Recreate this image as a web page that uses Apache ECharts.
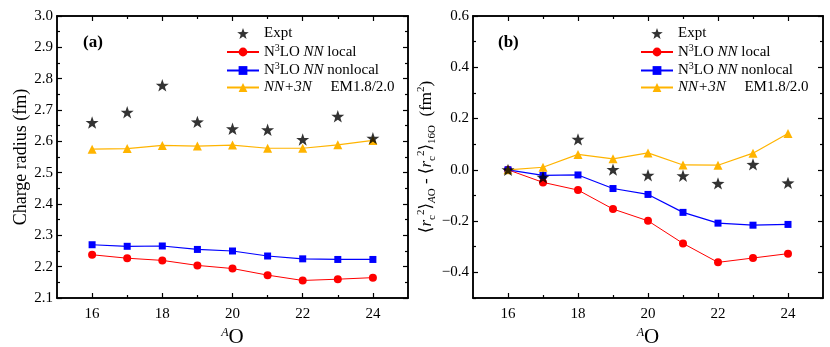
<!DOCTYPE html>
<html>
<head>
<meta charset="utf-8">
<script src="https://cdn.jsdelivr.net/npm/echarts@6/dist/echarts.min.js"></script>
<style>
  html, body { margin: 0; padding: 0; background: #fff; }
  #chart { width: 830px; height: 347px; }
</style>
</head>
<body>
<div id="chart"></div>
<script>
// mass numbers of the oxygen isotopes
const massNumbers = [16, 17, 18, 19, 20, 21, 22, 23, 24];

// (a) charge radius (fm)
const radiusExpt = [2.660, 2.693, 2.779, 2.662, 2.640, 2.637, 2.606, 2.680, 2.610];
const radiusLocal = [2.238, 2.227, 2.220, 2.204, 2.194, 2.173, 2.156, 2.160, 2.165];
const radiusNonlocal = [2.270, 2.265, 2.266, 2.255, 2.250, 2.234, 2.225, 2.223, 2.223];
const radiusEM = [2.575, 2.577, 2.587, 2.585, 2.588, 2.578, 2.578, 2.589, 2.603];

// (b) charge radius squared difference to 16O (fm^2)
const diffExpt = [0.000, -0.029, 0.119, 0.001, -0.021, -0.023, -0.053, 0.021, -0.051];
const diffLocal = [0.000, -0.049, -0.079, -0.153, -0.199, -0.287, -0.361, -0.344, -0.327];
const diffNonlocal = [0.000, -0.022, -0.020, -0.073, -0.096, -0.166, -0.208, -0.216, -0.213];
const diffEM = [0.000, 0.010, 0.060, 0.043, 0.066, 0.019, 0.018, 0.065, 0.142];

// ticks
const xMajorTicks = [16, 18, 20, 22, 24];
const xMinorTicks = [17, 19, 21, 23];
const radiusMajorTicks = [2.1, 2.2, 2.3, 2.4, 2.5, 2.6, 2.7, 2.8, 2.9, 3.0];
const radiusMinorTicks = [2.15, 2.25, 2.35, 2.45, 2.55, 2.65, 2.75, 2.85, 2.95];
const diffMajorTicks = [-0.4, -0.2, 0.0, 0.2, 0.4, 0.6];
const diffMinorTicks = [-0.5, -0.3, -0.1, 0.1, 0.3, 0.5];

const seriesNames = ['Expt', 'N3LO NN local', 'N3LO NN nonlocal', 'NN+3N EM1.8/2.0'];

const SERIF = '"Liberation Serif", "DejaVu Serif", serif';
const STAR = 'path://M0,-10L2.35,-3.24L9.51,-3.09L3.8,1.24L5.88,8.09L0,4L-5.88,8.09L-3.8,1.24L-9.51,-3.09L-2.35,-3.24Z';
const RED = '#ff0000';
const BLUE = '#0000ff';
const YELLOW = '#ffb400';

const chart = echarts.init(document.getElementById('chart'));

const richBase = {
  n: { fontFamily: SERIF, fontSize: 15, color: '#000', lineHeight: 18 },
  i: { fontFamily: SERIF, fontSize: 15, fontStyle: 'italic', color: '#000', lineHeight: 18 },
  sup: { fontFamily: SERIF, fontSize: 10, color: '#000', verticalAlign: 'top', lineHeight: 10 }
};

function toPairs(values) {
  return massNumbers.map((a, i) => [a, values[i]]);
}

// axis with custom tick values, no labels unless asked
function xAxis(gridIndex, position, ticks, len, withLabels) {
  return {
    gridIndex: gridIndex,
    type: 'value',
    min: 15,
    max: 25,
    position: position,
    axisLine: { show: true, onZero: false, lineStyle: { color: '#000', width: 1.5 } },
    axisTick: { show: true, inside: true, length: len, customValues: ticks, lineStyle: { color: '#000', width: 1.2 } },
    axisLabel: withLabels
      ? { show: true, customValues: ticks, margin: 9, color: '#000', fontFamily: SERIF, fontSize: 15 }
      : { show: false },
    splitLine: { show: false },
    name: withLabels ? '{sup|A}{big|O}' : '',
    nameLocation: 'middle',
    nameGap: 27,
    nameTextStyle: {
      rich: {
        sup: { fontFamily: SERIF, fontSize: 12, fontStyle: 'italic', color: '#000', verticalAlign: 'top', lineHeight: 12 },
        big: { fontFamily: SERIF, fontSize: 21, color: '#000', lineHeight: 22 }
      }
    }
  };
}

function yAxis(gridIndex, position, min, max, ticks, len, label) {
  const axis = {
    gridIndex: gridIndex,
    type: 'value',
    min: min,
    max: max,
    position: position,
    axisLine: { show: true, onZero: false, lineStyle: { color: '#000', width: 1.5 } },
    axisTick: { show: true, inside: true, length: len, customValues: ticks, lineStyle: { color: '#000', width: 1.2 } },
    axisLabel: { show: false },
    splitLine: { show: false }
  };
  if (label) {
    axis.axisLabel = {
      show: true,
      customValues: ticks,
      margin: 4,
      color: '#000',
      fontFamily: SERIF,
      fontSize: 15,
      formatter: v => (v < -1e-9 ? '\u2212' + (-v).toFixed(1) : Math.abs(v).toFixed(1))
    };
    axis.name = label.name;
    axis.nameLocation = 'middle';
    axis.nameGap = label.gap;
    axis.nameRotate = 90;
    axis.nameTextStyle = label.style;
  }
  return axis;
}

function panelSeries(offset, expt, local, nonlocal, em) {
  const xi = offset * 4;
  const yi = offset * 4;
  return [
    {
      name: seriesNames[1], type: 'line', xAxisIndex: xi, yAxisIndex: yi,
      data: toPairs(local), symbol: 'circle', symbolSize: 8,
      lineStyle: { color: RED, width: 1 }, itemStyle: { color: RED }, z: 3
    },
    {
      name: seriesNames[2], type: 'line', xAxisIndex: xi, yAxisIndex: yi,
      data: toPairs(nonlocal), symbol: 'rect', symbolSize: 7,
      lineStyle: { color: BLUE, width: 1.2 }, itemStyle: { color: BLUE }, z: 3
    },
    {
      name: seriesNames[3], type: 'line', xAxisIndex: xi, yAxisIndex: yi,
      data: toPairs(em), symbol: 'triangle', symbolSize: 9,
      lineStyle: { color: YELLOW, width: 1.2 }, itemStyle: { color: YELLOW }, z: 3
    },
    {
      name: seriesNames[0], type: 'scatter', xAxisIndex: xi, yAxisIndex: yi,
      data: toPairs(expt), symbol: STAR, symbolSize: 13, symbolKeepAspect: true,
      itemStyle: { color: '#000' }, z: 5
    }
  ];
}

function legendFor(left) {
  return {
    orient: 'vertical',
    left: left,
    top: 21,
    itemWidth: 32,
    itemHeight: 11,
    itemGap: 2,
    data: seriesNames,
    selectedMode: false,
    formatter: name => ({
      'Expt': '{n|Expt}',
      'N3LO NN local': '{n|N}{sup|3}{n|LO }{i|NN}{n| local}',
      'N3LO NN nonlocal': '{n|N}{sup|3}{n|LO }{i|NN}{n| nonlocal}',
      'NN+3N EM1.8/2.0': '{i|NN+3N}{n|     EM1.8/2.0}'
    })[name],
    textStyle: { rich: richBase }
  };
}

const leftName = {
  name: 'Charge radius (fm)', gap: 24,
  style: { fontFamily: SERIF, fontSize: 18, color: '#000' }
};
const rightName = {
  name: '{n|\u27E8}{ni|r}{sub|c}{sup|2}{n|\u27E9}{subi|A}{sub|O}{n| - \u27E8}{ni|r}{sub|c}{sup|2}{n|\u27E9}{sub|16}{sub|O}{n|  (fm}{sup|2}{n|)}',
  gap: 27,
  style: {
    rich: {
      n: { fontFamily: SERIF, fontSize: 17, color: '#000', lineHeight: 22 },
      ni: { fontFamily: SERIF, fontSize: 17, fontStyle: 'italic', color: '#000', lineHeight: 22 },
      sup: { fontFamily: SERIF, fontSize: 11, color: '#000', verticalAlign: 'top', lineHeight: 11 },
      sub: { fontFamily: SERIF, fontSize: 11, color: '#000', verticalAlign: 'bottom', lineHeight: 11 },
      subi: { fontFamily: SERIF, fontSize: 11, fontStyle: 'italic', color: '#000', verticalAlign: 'bottom', lineHeight: 11 }
    }
  }
};

chart.setOption({
  animation: false,
  backgroundColor: '#fff',
  grid: [
    { left: 57, top: 16, width: 351, height: 282, outerBoundsMode: 'none' },
    { left: 473, top: 16, width: 350, height: 282, outerBoundsMode: 'none' }
  ],
  legend: [legendFor(221), legendFor(635)],
  xAxis: [
    xAxis(0, 'bottom', xMajorTicks, 5, true),
    xAxis(0, 'bottom', xMinorTicks, 3, false),
    xAxis(0, 'top', xMajorTicks, 5, false),
    xAxis(0, 'top', xMinorTicks, 3, false),
    xAxis(1, 'bottom', xMajorTicks, 5, true),
    xAxis(1, 'bottom', xMinorTicks, 3, false),
    xAxis(1, 'top', xMajorTicks, 5, false),
    xAxis(1, 'top', xMinorTicks, 3, false)
  ],
  yAxis: [
    yAxis(0, 'left', 2.1, 3.0, radiusMajorTicks, 5, leftName),
    yAxis(0, 'left', 2.1, 3.0, radiusMinorTicks, 3, null),
    yAxis(0, 'right', 2.1, 3.0, radiusMajorTicks, 5, null),
    yAxis(0, 'right', 2.1, 3.0, radiusMinorTicks, 3, null),
    yAxis(1, 'left', -0.5, 0.6, diffMajorTicks, 5, rightName),
    yAxis(1, 'left', -0.5, 0.6, diffMinorTicks, 3, null),
    yAxis(1, 'right', -0.5, 0.6, diffMajorTicks, 5, null),
    yAxis(1, 'right', -0.5, 0.6, diffMinorTicks, 3, null)
  ],
  graphic: [
    { type: 'text', left: 83, top: 34, style: { text: '(a)', font: 'bold 17px ' + SERIF, fill: '#000' } },
    { type: 'text', left: 498, top: 34, style: { text: '(b)', font: 'bold 17px ' + SERIF, fill: '#000' } }
  ],
  series: [].concat(
    panelSeries(0, radiusExpt, radiusLocal, radiusNonlocal, radiusEM),
    panelSeries(1, diffExpt, diffLocal, diffNonlocal, diffEM)
  )
});
</script>
</body>
</html>
